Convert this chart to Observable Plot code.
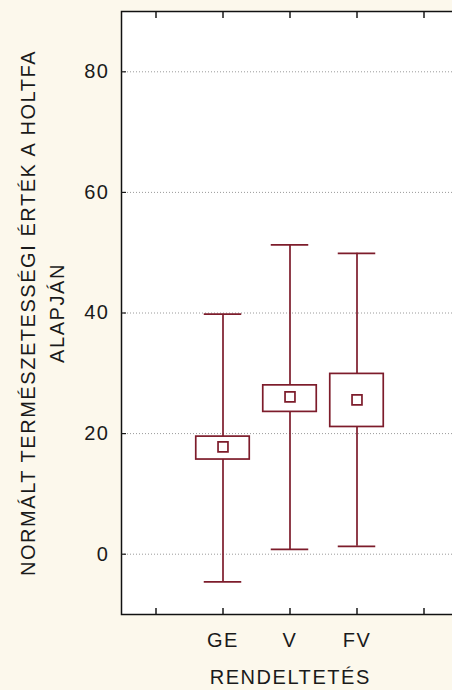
<!DOCTYPE html>
<html><head><meta charset="utf-8">
<script src="https://cdn.jsdelivr.net/npm/d3@7"></script>
<script src="https://cdn.jsdelivr.net/npm/@observablehq/plot@0.6"></script>
<style>html,body{margin:0;padding:0;overflow:hidden;background:#fcf8ec;}</style>
</head><body><div id="chart"></div>
<script>
const categories = ["", "GE", "V", "FV", " "];
const groups = ["GE", "V", "FV"];
const whiskerLow = [-4.6, 0.8, 1.3];
const boxLow = [15.7, 23.6, 21.1];
const means = [17.8, 26.1, 25.6];
const boxHigh = [19.5, 28.0, 29.9];
const whiskerHigh = [39.8, 51.3, 49.9];
const yTicks = [0, 20, 40, 60, 80];
const yLabel = "NORMÁLT TERMÉSZETESSÉGI ÉRTÉK A HOLTFA\nALAPJÁN";
const xLabel = "RENDELTETÉS";

const rows = groups.map((g, i) => ({group: g, lo: whiskerLow[i], q1: boxLow[i], mean: means[i], q3: boxHigh[i], hi: whiskerHigh[i]}));
const stroke = "#7d1c2b";
const sw = 1.7;
const ink = "#1a1a1a";

const chart = Plot.plot({
  width: 460, height: 690,
  marginLeft: 121, marginRight: 1.5, marginTop: 11, marginBottom: 76,
  style: {background: "#fcf8ec", maxWidth: "none", fontFamily: "'Liberation Sans', Arial, sans-serif", fontSize: "20px", letterSpacing: "1.55px", color: ink, overflow: "visible"},
  x: {type: "band", domain: categories, padding: 0, axis: null},
  y: {domain: [-10, 90], axis: null},
  marks: [
    Plot.frame({fill: "white", stroke: "none"}),
    Plot.gridY(yTicks, {stroke: "#9a9a9a", strokeOpacity: 1, strokeDasharray: "1,2"}),
    Plot.ruleX(rows, {x: "group", y1: "lo", y2: "hi", stroke, strokeWidth: sw}),
    Plot.tickY(rows, {x: "group", y: "lo", stroke, strokeWidth: sw, insetLeft: 14.75, insetRight: 14.75}),
    Plot.tickY(rows, {x: "group", y: "hi", stroke, strokeWidth: sw, insetLeft: 14.75, insetRight: 14.75}),
    Plot.barY(rows, {x: "group", y1: "q1", y2: "q3", fill: "white", stroke, strokeWidth: sw, insetLeft: 6.75, insetRight: 6.75}),
    Plot.dot(rows, {x: "group", y: "mean", symbol: "square", r: 5.6, stroke, fill: "white", strokeWidth: sw}),
    Plot.frame({stroke: "#111", strokeWidth: 1.5}),
    Plot.axisX({anchor: "bottom", tickSize: 6, dy: -6, tickFormat: () => "", label: null, strokeWidth: 1.5}),
    Plot.axisX({anchor: "top", tickSize: 6, dy: 6, tickFormat: () => "", label: null, strokeWidth: 1.5}),
    Plot.axisX({anchor: "bottom", tickSize: 0, tickPadding: 18, tickFormat: d => d.trim(), label: null, fill: ink}),
    Plot.axisY(yTicks, {anchor: "left", tickSize: 5, dx: 5, tickFormat: () => "", label: null, strokeWidth: 1.2}),
    Plot.axisY(yTicks, {anchor: "right", tickSize: 5, dx: -5, tickFormat: () => "", label: null, strokeWidth: 1.2}),
    Plot.axisY(yTicks, {anchor: "left", tickSize: 0, tickPadding: 12, label: null, fill: ink}),
    Plot.text([xLabel], {text: d => d, frameAnchor: "bottom", dy: 63, lineAnchor: "middle", textAnchor: "middle", fill: ink}),
    Plot.text([yLabel], {text: d => d, frameAnchor: "left", rotate: -90, dx: -81, lineHeight: 1.45, lineAnchor: "middle", textAnchor: "middle", fill: ink})
  ]
});
document.getElementById("chart").appendChild(chart);
</script>
</body></html>
